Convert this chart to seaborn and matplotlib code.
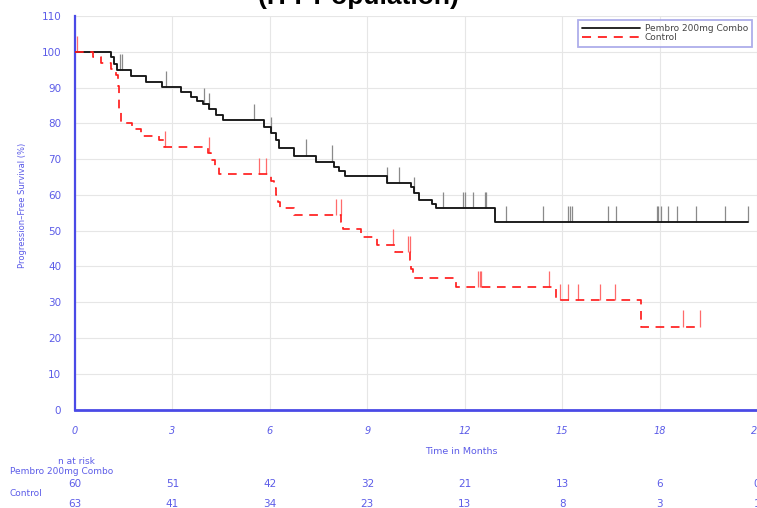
import numpy as np
import pandas as pd
import matplotlib
matplotlib.use("Agg")
import matplotlib.pyplot as plt
import matplotlib.transforms as mtransforms
from matplotlib.ticker import MultipleLocator
from matplotlib.lines import Line2D
import seaborn as sns

# Kaplan-Meier step data: event times (months) and survival (%) after each event
pembro_times = [0, 1.12, 1.2, 1.3, 1.72, 2.19, 2.68, 3.26, 3.57, 3.77, 3.93, 4.13, 4.34,
                4.55, 5.83, 6.03, 6.18, 6.29, 6.75, 7.42, 7.99, 8.14, 8.3, 9.6, 10.35,
                10.45, 10.6, 11.0, 11.12, 12.92, 20.73]
pembro_surv = [100, 98.4, 96.7, 95.0, 93.2, 91.6, 90.1, 88.7, 87.3, 86.3, 85.3, 84.0, 82.4,
               80.9, 79.1, 77.4, 75.2, 73.2, 71.0, 69.3, 67.9, 66.6, 65.2, 63.3, 62.2,
               60.4, 58.6, 57.5, 56.2, 52.5, 52.5]
pembro_censor = [1.38, 1.45, 2.8, 3.98, 4.13, 5.52, 6.03, 7.11, 7.92, 9.62, 9.97, 10.45,
                 11.33, 11.94, 12.0, 12.27, 12.61, 12.66, 13.28, 14.41, 15.18, 15.23,
                 15.29, 16.41, 16.67, 17.91, 17.96, 18.03, 18.26, 18.54, 19.12, 20.01, 20.73]

control_times = [0, 0.55, 0.8, 1.1, 1.25, 1.31, 1.34, 1.37, 1.42, 1.77, 2.02, 2.6, 2.74,
                 4.1, 4.2, 4.3, 4.42, 6.05, 6.12, 6.18, 6.24, 6.3, 6.75, 8.2, 8.25, 8.81,
                 9.3, 9.84, 10.33, 10.36, 10.4, 11.74, 14.8, 17.44, 19.24]
control_surv = [100, 98.4, 96.8, 95.2, 93.6, 90.5, 87.3, 84.1, 80.2, 78.5, 76.5, 75.4, 73.4,
                71.6, 69.7, 67.8, 65.9, 63.9, 62.0, 60.0, 58.1, 56.2, 54.4, 52.4, 50.4, 48.1,
                46.0, 44.1, 41.7, 39.3, 36.8, 34.2, 30.7, 23.2, 23.2]
control_censor = [0.07, 2.78, 4.13, 5.67, 5.88, 8.04, 8.19, 9.78, 10.25, 10.32, 12.41,
                  12.46, 12.51, 14.6, 14.92, 15.18, 15.49, 16.16, 16.62, 18.73, 19.24]

risk_months = [0, 3, 6, 9, 12, 15, 18, 21]
pembro_risk = [60, 51, 42, 32, 21, 13, 6, 0]
control_risk = [63, 41, 34, 23, 13, 8, 3, 1]

arm_names = ["Pembro 200mg Combo", "Control"]

sns.set_style("white")
plt.rcParams["font.family"] = ["DejaVu Sans"]

BLUE = "#4a4ae6"
TEXT_BLUE = "#5c5ce8"

W, H = 757, 508
fig = plt.figure(figsize=(W / 100, H / 100), dpi=100)
ax = fig.add_axes([75 / W, 1 - 409.5 / H, 682 / W, 393.5 / H])


def surv_at(times, surv, t):
    idx = np.searchsorted(np.asarray(times), t, side="right") - 1
    return np.asarray(surv)[idx]


arms = [
    (pembro_times, pembro_surv, pembro_censor, "#161616", "-", "#8a8a8a", 1.35),
    (control_times, control_surv, control_censor, "#ff1f1f", (0, (5, 3.8)), "#ff6b6b", 1.25),
]
for name, (times, surv, cens, col, ls, ccol, lw) in zip(arm_names, arms):
    df = pd.DataFrame({"t": times, "s": surv})
    sns.lineplot(data=df, x="t", y="s", ax=ax, color=col, linestyle=ls,
                 drawstyle="steps-post", estimator=None, sort=False,
                 linewidth=lw, zorder=4)
    base = surv_at(times, surv, np.asarray(cens))
    ax.vlines(cens, base, base + 4.5, color=ccol, linewidth=0.9, zorder=3)

ax.set_xlim(0, 21)
ax.set_ylim(0, 110)
ax.set_xlabel("")
ax.set_ylabel("")

ax.xaxis.set_major_locator(MultipleLocator(3))
ax.xaxis.set_minor_locator(MultipleLocator(0.3))
ax.yaxis.set_major_locator(MultipleLocator(10))
ax.yaxis.set_minor_locator(MultipleLocator(5))

ax.grid(True, which="major", color="#e6e6e6", linewidth=0.8, zorder=0)
for side in ("top", "right"):
    ax.spines[side].set_visible(False)
for side in ("left", "bottom"):
    ax.spines[side].set_color(BLUE)
ax.spines["left"].set_linewidth(1.6)
ax.spines["bottom"].set_linewidth(2.0)

ax.tick_params(axis="both", which="major", direction="out", color=BLUE,
               labelcolor=TEXT_BLUE, width=1.0)
ax.tick_params(axis="y", which="major", length=7, pad=3, labelsize=7.5)
ax.tick_params(axis="y", which="minor", length=4, width=0.9, color=BLUE)
ax.tick_params(axis="x", which="major", length=6, pad=6, labelsize=7)
ax.tick_params(axis="x", which="minor", length=3, width=0.9, color=BLUE)
for lab in ax.get_xticklabels():
    lab.set_fontstyle("italic")

handles = [
    Line2D([], [], color="#161616", linewidth=1.3),
    Line2D([], [], color="#ff1f1f", linewidth=1.3, linestyle=(0, (5, 3.8))),
]
leg = ax.legend(handles, arm_names, loc="upper right", bbox_to_anchor=(0.993, 0.99),
                fontsize=6.5, frameon=True, fancybox=False, handlelength=6.5,
                handletextpad=0.5, borderpad=0.45, labelspacing=0.05,
                borderaxespad=0.0)
leg.get_frame().set_edgecolor("#9a9ae6")
leg.get_frame().set_linewidth(1.3)
for txt in leg.get_texts():
    txt.set_color("#444444")

fig.text(23 / W, 1 - 205 / H, "Progression\u2013Free Survival (%)", rotation=90,
         ha="center", va="center", fontsize=6, color=TEXT_BLUE)
ax.text(11.9, 1 - 451 / H, "Time in Months", transform=mtransforms.blended_transform_factory(
    ax.transData, fig.transFigure), ha="center", va="center", fontsize=6.8, color=TEXT_BLUE)

fig.text(358 / W, 1 - 4 / H, "(ITT Population)", ha="center", va="baseline",
         fontsize=19, fontweight="bold", color="black", family=["Liberation Sans", "DejaVu Sans"])

mix = mtransforms.blended_transform_factory(ax.transData, fig.transFigure)
fig.text(76 / W, 1 - 461 / H, "n at risk", ha="center", va="center",
         fontsize=6.5, color=TEXT_BLUE)
fig.text(10 / W, 1 - 472 / H, arm_names[0], ha="left", va="center",
         fontsize=6.5, color=TEXT_BLUE)
fig.text(10 / W, 1 - 494 / H, arm_names[1], ha="left", va="center",
         fontsize=6.5, color=TEXT_BLUE)
for m, a, b in zip(risk_months, pembro_risk, control_risk):
    ax.text(m, 1 - 484 / H, str(a), transform=mix, ha="center", va="center",
            fontsize=7.5, color=TEXT_BLUE, clip_on=False)
    ax.text(m, 1 - 504 / H, str(b), transform=mix, ha="center", va="center",
            fontsize=7.5, color=TEXT_BLUE, clip_on=False)

fig.savefig("out.png", dpi=100)
